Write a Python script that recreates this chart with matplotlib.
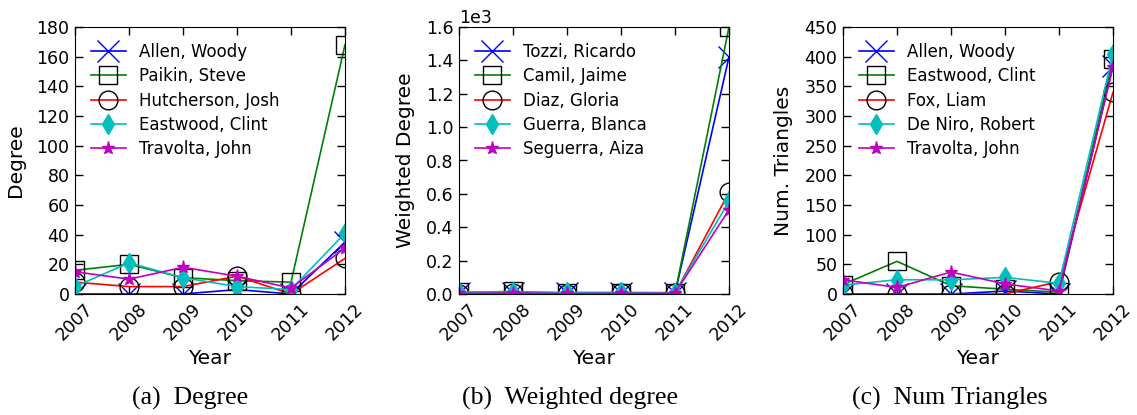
import matplotlib
matplotlib.use("Agg")
import matplotlib.pyplot as plt
import numpy as np

years = ["2007", "2008", "2009", "2010", "2011", "2012"]

# (a) Degree
deg_names = ["Allen, Woody", "Paikin, Steve", "Hutcherson, Josh", "Eastwood, Clint", "Travolta, John"]
deg_allen = [0, 0, 0, 3, 0, 35]
deg_paikin = [16, 20, 11, 9, 8, 168]
deg_hutcherson = [8, 5, 5, 12, 0, 24]
deg_eastwood = [5, 21, 11, 5, 3, 41]
deg_travolta = [15, 10, 18, 12, 4, 31]

# (b) Weighted degree
wdeg_names = ["Tozzi, Ricardo", "Camil, Jaime", "Diaz, Gloria", "Guerra, Blanca", "Seguerra, Aiza"]
wdeg_tozzi = [5, 8, 4, 6, 3, 1420]
wdeg_camil = [10, 15, 5, 4, 3, 1600]
wdeg_diaz = [2, 3, 2, 8, 3, 610]
wdeg_guerra = [12, 12, 10, 10, 8, 555]
wdeg_seguerra = [3, 6, 3, 4, 5, 505]

# (c) Num triangles
tri_names = ["Allen, Woody", "Eastwood, Clint", "Fox, Liam", "De Niro, Robert", "Travolta, John"]
tri_allen = [0, 0, 0, 5, 0, 385]
tri_eastwood = [16, 55, 14, 8, 3, 396]
tri_fox = [0, 0, 0, 0, 21, 340]
tri_deniro = [15, 24, 24, 28, 18, 405]
tri_travolta = [24, 11, 37, 17, 5, 383]

captions = ["(a)  Degree", "(b)  Weighted degree", "(c)  Num Triangles"]
ylabels = ["Degree", "Weighted Degree", "Num. Triangles"]

styles = [
    dict(color=(0, 0, 1), marker="x", ms=15.5, mew=1.0),
    dict(color=(0, 0.5, 0), marker="s", ms=13.5, mfc="none", mec="k", mew=1.0),
    dict(color=(1, 0, 0), marker="o", ms=13.5, mfc="none", mec="k", mew=1.0),
    dict(color=(0, 0.75, 0.75), marker="d", ms=10.5, mec=(0, 0.75, 0.75), mew=1.0),
    dict(color=(0.75, 0, 0.75), marker="*", ms=9.5, mec=(0.75, 0, 0.75), mew=1.0),
]

panels = [
    (deg_names, [deg_allen, deg_paikin, deg_hutcherson, deg_eastwood, deg_travolta], 180, 20),
    (wdeg_names, [wdeg_tozzi, wdeg_camil, wdeg_diaz, wdeg_guerra, wdeg_seguerra], 1600, 200),
    (tri_names, [tri_allen, tri_eastwood, tri_fox, tri_deniro, tri_travolta], 450, 50),
]

W, H = 1137, 415
fig = plt.figure(figsize=(W / 100, H / 100), dpi=100)
fs_tick = 12.5
fs_leg = 12
fs_lab = 14.5
lefts = [75, 459, 843]
ylab_x = [25, 415, 793]
for i, (names, series, ymax, ystep) in enumerate(panels):
    l = lefts[i]
    ax = fig.add_axes([l / W, 1 - 294 / H, 270 / W, 267 / H])
    x = np.arange(len(years))
    for name, vals, st in zip(names, series, styles):
        ax.plot(x, vals, label=name, lw=1.2, **st)
    ax.set_xlim(0, len(years) - 1)
    ax.set_ylim(0, ymax)
    ax.set_xticks(x)
    ax.set_xticklabels(years, rotation=45)
    ax.set_yticks(np.arange(0, ymax + 1, ystep))
    ax.tick_params(direction="in", top=True, right=True, length=6, width=1,
                   labelsize=fs_tick, pad=4)
    if i == 1:
        ax.ticklabel_format(axis="y", style="sci", scilimits=(0, 0))
        ax.yaxis.get_offset_text().set_fontsize(fs_tick)
    ax.set_ylabel(ylabels[i], fontsize=fs_lab)
    ax.yaxis.set_label_coords((ylab_x[i] - l) / 270, 0.5)
    ax.set_xlabel("Year", fontsize=fs_lab)
    ax.xaxis.set_label_coords(0.5, (294 - 349) / 267)
    ax.legend(loc="upper left", frameon=False, fontsize=fs_leg, handlelength=2.1,
              labelspacing=0.38, borderaxespad=0.55, handletextpad=0.8)
    fig.text((190 + 380 * i) / W, 1 - 398 / H, captions[i], ha="center", va="center",
             fontsize=18.5, family="Liberation Serif")

fig.savefig("out.png", dpi=100)
